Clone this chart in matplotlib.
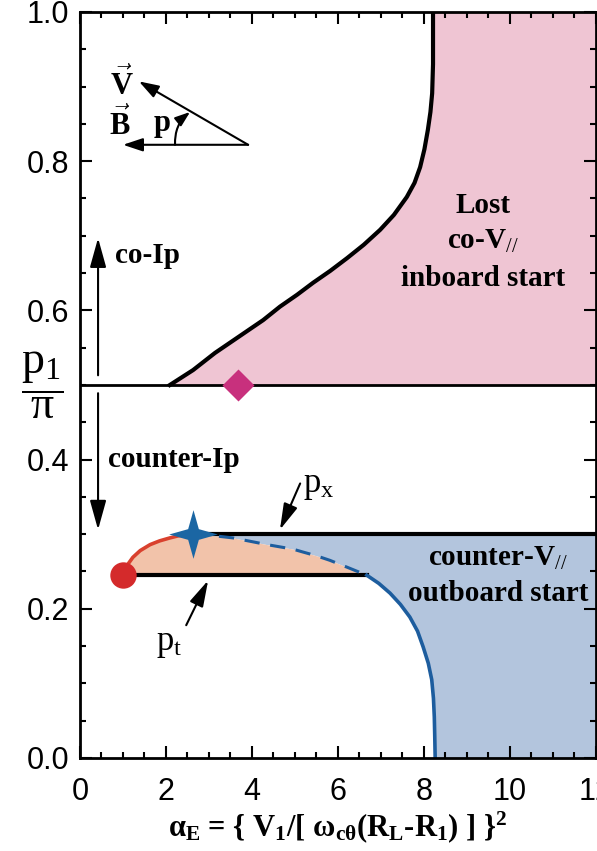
import matplotlib
matplotlib.use("Agg")
import matplotlib.pyplot as plt
from matplotlib.ticker import MultipleLocator
from matplotlib.path import Path

plt.rcParams['mathtext.fontset'] = 'custom'
plt.rcParams['mathtext.rm'] = 'Liberation Serif'
plt.rcParams['mathtext.it'] = 'Liberation Serif:italic'
plt.rcParams['mathtext.bf'] = 'Liberation Serif:bold'

# boundary of the lost co-V// region (inboard start)
upper_x = [2.09, 2.63, 3.14, 3.70, 4.26, 4.65, 5.05, 5.42, 5.82, 6.21, 6.60, 6.98, 7.30,
           7.60, 7.78, 7.91, 8.01, 8.09, 8.15, 8.19, 8.21, 8.21]
upper_y = [0.500, 0.520, 0.543, 0.565, 0.587, 0.605, 0.621, 0.637, 0.653, 0.670, 0.688, 0.708,
           0.728, 0.752, 0.771, 0.792, 0.816, 0.842, 0.866, 0.891, 0.930, 1.0]

# rising branch from the red dot up to the X-point star
red_x = [1.00, 1.08, 1.23, 1.40, 1.63, 1.85, 2.09, 2.30, 2.49, 2.63]
red_y = [0.245, 0.257, 0.269, 0.278, 0.286, 0.291, 0.295, 0.298, 0.299, 0.300]

# dashed branch between p_x and p_t
dash_x = [2.63, 3.10, 3.56, 4.00, 4.35, 4.65, 4.95, 5.19, 5.50, 5.81, 6.20, 6.67]
dash_y = [0.300, 0.298, 0.295, 0.290, 0.286, 0.283, 0.280, 0.276, 0.271, 0.265, 0.256, 0.245]

# solid blue branch down to the axis
blue_x = [6.67, 6.95, 7.21, 7.45, 7.67, 7.85, 7.98, 8.10, 8.18, 8.22, 8.24, 8.25, 8.26]
blue_y = [0.245, 0.234, 0.221, 0.206, 0.189, 0.170, 0.149, 0.127, 0.105, 0.080, 0.055, 0.030, 0.0]

p_half = 0.5
p_x = 0.30
p_t = 0.245
dot_xy = (1.00, 0.245)
star_xy = (2.63, 0.300)
diamond_xy = (3.67, 0.5)

xticks = [0, 2, 4, 6, 8, 10, 12]
xtick_labels = ['0', '2', '4', '6', '8', '10', '12']
yticks = [0.0, 0.2, 0.4, 0.6, 0.8, 1.0]
ytick_labels = ['0.0', '0.2', '0.4', '0.6', '0.8', '1.0']

pink = '#efc5d3'
salmon = '#f2c3aa'
lightblue = '#b3c5dd'
darkblue = '#1d5d9e'

fig = plt.figure(figsize=(5.97, 8.51), dpi=100)
ax = fig.add_axes([0.134, 0.1093, 0.8643, 0.8766])
ax.set_xlim(0, 12)
ax.set_ylim(0, 1)

# shaded regions
ax.fill_betweenx(upper_y, upper_x, 12, color=pink, lw=0, zorder=1)
right_x = blue_x[::-1] + dash_x[::-1][1:]
right_y = blue_y[::-1] + dash_y[::-1][1:]
ax.fill_betweenx(right_y, right_x, 12, color=lightblue, lw=0, zorder=1)
top_x = red_x + dash_x[1:]
top_y = red_y + dash_y[1:]
ax.fill_between(top_x, p_t, top_y, color=salmon, lw=0, zorder=1)

# boundary lines
ax.plot(upper_x, upper_y, color='k', lw=3, zorder=3, solid_joinstyle='round')
ax.axhline(p_half, color='k', lw=2, zorder=3)
ax.plot([star_xy[0], 12], [p_x, p_x], color='k', lw=3, zorder=3)
ax.plot([dot_xy[0], blue_x[0]], [p_t, p_t], color='k', lw=3, zorder=3)
ax.plot(red_x, red_y, color='#d9412e', lw=2.6, zorder=4)
ax.plot(dash_x, dash_y, color=darkblue, lw=2.2, ls=(0, (5, 3.5)), zorder=4)
ax.plot(blue_x, blue_y, color=darkblue, lw=2.6, zorder=4)

# markers
star = Path([(0, 1), (0.22, 0.22), (1, 0), (0.22, -0.22), (0, -1),
             (-0.22, -0.22), (-1, 0), (-0.22, 0.22), (0, 1)],
            [Path.MOVETO] + [Path.LINETO] * 7 + [Path.CLOSEPOLY])
ax.plot(*star_xy, marker=star, ms=35, color='#1b66a3', mec='none', zorder=6)
ax.plot(*dot_xy, marker='o', ms=19, color='#d42a2b', mec='none', zorder=6)
ax.plot(*diamond_xy, marker='D', ms=16.5, color='#c8307d', mec='none', zorder=6)

# vector sketch in the corner
vtx = (3.91, 0.822)
vec_arrow = dict(arrowstyle='-|>,head_length=0.6,head_width=0.2', mutation_scale=20,
                 lw=1.5, color='k', shrinkA=0, shrinkB=0)
ax.annotate('', xy=(1.0, 0.822), xytext=vtx, arrowprops=vec_arrow)
ax.annotate('', xy=(1.37, 0.907), xytext=vtx, arrowprops=vec_arrow)
ax.annotate('', xy=(2.56, 0.866), xytext=(2.21, 0.822),
            arrowprops=dict(arrowstyle='-|>,head_length=0.5,head_width=0.18', mutation_scale=18,
                            lw=1.5, color='k', shrinkA=0, shrinkB=0,
                            connectionstyle='arc3,rad=-0.25'))
ax.text(0.98, 0.905, r'$\vec{\mathbf{V}}$', fontsize=22, ha='center', va='center')
ax.text(0.93, 0.851, r'$\vec{\mathbf{B}}$', fontsize=22, ha='center', va='center')
ax.text(1.91, 0.851, 'p', fontsize=22, fontweight='bold', family='Liberation Serif',
        ha='center', va='center')

# current direction arrows
dir_arrow = dict(arrowstyle='-|>,head_length=0.9,head_width=0.25', mutation_scale=20,
                 lw=1.5, color='k', shrinkA=0, shrinkB=0)
ax.annotate('', xy=(0.42, 0.697), xytext=(0.42, 0.513), arrowprops=dir_arrow)
ax.annotate('', xy=(0.42, 0.306), xytext=(0.42, 0.489), arrowprops=dir_arrow)
bold = dict(fontsize=21, fontweight='bold', family='Liberation Serif')
ax.text(0.81, 0.674, 'co-Ip', ha='left', va='center', **bold)
ax.text(0.65, 0.400, 'counter-Ip', ha='left', va='center', **bold)

# region labels
ax.text(9.37, 0.741, 'Lost', ha='center', va='center', **bold)
ax.text(9.37, 0.692, r'co-V$_{\mathit{//}}$', ha='center', va='center', **bold)
ax.text(9.37, 0.643, 'inboard start', ha='center', va='center', **bold)
ax.text(9.72, 0.268, r'counter-V$_{\mathit{//}}$', ha='center', va='center', **bold)
ax.text(9.72, 0.221, 'outboard start', ha='center', va='center', **bold)

# p_x and p_t pointers
ptr = dict(arrowstyle='-|>,head_length=0.8,head_width=0.22', mutation_scale=20,
           lw=1.5, color='k', shrinkA=0, shrinkB=0)
ax.annotate('', xy=(4.65, 0.306), xytext=(5.12, 0.368), arrowprops=ptr)
ax.annotate('', xy=(2.98, 0.238), xytext=(2.47, 0.178), arrowprops=ptr)
ax.text(5.19, 0.366, r'$\mathrm{p_x}$', fontsize=25, ha='left', va='center')
ax.text(1.77, 0.154, r'$\mathrm{p_t}$', fontsize=25, ha='left', va='center')

# axes styling
for s in ax.spines.values():
    s.set_linewidth(2)
    s.set_zorder(10)
ax.set_xticks(xticks)
ax.set_xticklabels(xtick_labels)
ax.set_yticks(yticks)
ax.set_yticklabels(ytick_labels)
ax.xaxis.set_minor_locator(MultipleLocator(0.5))
ax.yaxis.set_minor_locator(MultipleLocator(0.05))
ax.tick_params(which='both', direction='in', top=True, right=True, width=1.5)
ax.tick_params(which='major', length=8.5)
ax.tick_params(which='minor', length=4)
ax.tick_params(axis='x', pad=14)
ax.tick_params(axis='y', pad=8)
for lab in ax.get_xticklabels() + ax.get_yticklabels():
    lab.set_family('Liberation Sans')
    lab.set_fontsize(22)

ax.text(-0.074, 0.5, r'$\dfrac{\mathrm{p_1}}{\mathrm{\pi}}$', fontsize=33, transform=ax.transAxes,
        ha='center', va='center')
ax.set_xlabel('α$_{\\mathbf{E}}$ = { V$_{\\mathbf{1}}$/[ ω$_{\\mathbf{c\\theta}}$'
              '(R$_{\\mathbf{L}}$-R$_{\\mathbf{1}}$) ] }$^{\\mathbf{2}}$',
              fontsize=22, fontweight='bold', family='Liberation Serif', labelpad=1)

fig.savefig('out.png', dpi=100)
